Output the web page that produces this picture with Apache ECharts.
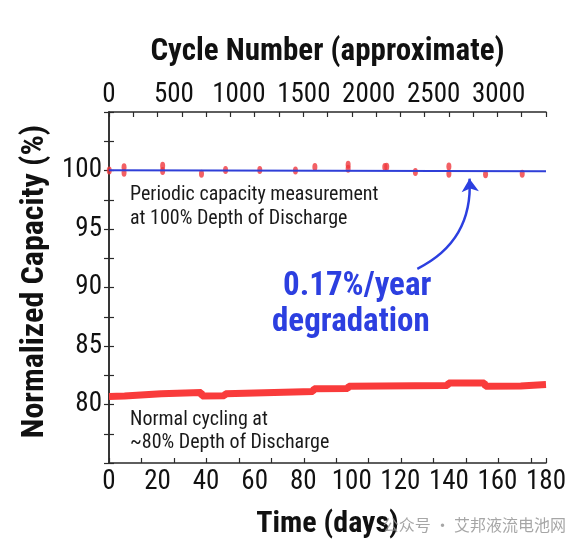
<!DOCTYPE html>
<html>
<head>
<meta charset="utf-8">
<script src="https://cdn.jsdelivr.net/npm/echarts@6/dist/echarts.min.js"></script>
<style>html,body{margin:0;padding:0;background:#fff}#c{width:582px;height:550px}</style>
</head>
<body>
<div id="c"></div>
<script>
// ---- data ----
const periodicDays = [0.1, 6.2, 6.2, 22.1, 22.1, 38.1, 48.0, 62.1, 76.8, 84.8, 98.5, 98.5, 113.6, 114.4, 126.2, 140.0, 140.0, 155.1, 170.2];
const periodicCap  = [100.0, 100.28, 99.8, 100.4, 99.95, 99.72, 100.04, 100.04, 100.0, 100.3, 100.5, 100.15, 100.3, 100.32, 99.87, 100.35, 99.72, 99.68, 99.73];
const fitDays = [0, 180];
const fitCap  = [100.02, 99.94];
const cyclingDays = [0, 6.4, 6.8, 21.5, 22.0, 38.0, 38.3, 47.5, 48.0, 84.0, 84.5, 98.3, 98.8, 139.4, 139.9, 154.6, 155.1, 169.6, 170.1, 180];
const cyclingCap  = [80.68, 80.72, 80.84, 80.92, 81.0, 81.02, 80.72, 80.74, 80.92, 81.12, 81.35, 81.37, 81.55, 81.62, 81.83, 81.84, 81.55, 81.58, 81.68, 81.70];
const cycleMax = 3365;
const arrowFrom = [127, 91.6];
const arrowTo = [148.5, 99.3];

const FONT = '"Roboto Condensed", "DejaVu Sans Condensed", sans-serif';
const AX = '#2a2a2a';
const chart = echarts.init(document.getElementById('c'));
const hidden = {show:false};
chart.setOption({
  animation:false,
  grid:{left:109, right:36, top:112, bottom:87},
  xAxis:[
    {type:'value', position:'bottom', min:0, max:180, interval:20,
     axisLine:{show:true, lineStyle:{color:AX, width:1.5}}, axisTick:hidden, splitLine:hidden,
     axisLabel:{fontFamily:FONT, fontSize:27, color:'#111', margin:6},
     name:'Time (days)', nameLocation:'middle', nameGap:46,
     nameTextStyle:{fontFamily:FONT, fontWeight:'bold', fontSize:30, color:'#111'}},
    {type:'value', position:'bottom', min:0, max:cycleMax, interval:250,
     axisLine:hidden, axisLabel:hidden, splitLine:hidden,
     axisTick:{show:true, inside:true, length:5, lineStyle:{color:AX, width:1.2}}},
    {type:'value', position:'top', min:0, max:180, interval:10,
     axisLine:{show:true, lineStyle:{color:AX, width:1.5}}, axisLabel:hidden, splitLine:hidden,
     axisTick:{show:true, inside:true, length:5, lineStyle:{color:AX, width:1.2}}},
    {type:'value', position:'top', min:0, max:cycleMax, interval:500,
     axisLine:hidden, axisTick:hidden, splitLine:hidden,
     axisLabel:{fontFamily:FONT, fontSize:27, color:'#111', margin:3, showMaxLabel:false,
       formatter:v => String(v)},
     name:'Cycle Number (approximate)', nameLocation:'middle', nameGap:44,
     nameTextStyle:{fontFamily:FONT, fontWeight:'bold', fontSize:31, color:'#111'}}
  ],
  yAxis:[
    {type:'value', position:'left', min:75, max:105, interval:2.5,
     axisLine:{show:true, lineStyle:{color:AX, width:1.5}}, splitLine:hidden,
     axisTick:{show:true, inside:true, length:5, lineStyle:{color:AX, width:1.2}},
     axisLabel:{fontFamily:FONT, fontSize:27, color:'#111', margin:7,
       formatter:v => (v % 5 === 0 && v > 75 && v < 105) ? String(v) : ''},
     name:'Normalized Capacity (%)', nameLocation:'middle', nameGap:46,
     nameTextStyle:{fontFamily:FONT, fontWeight:'bold', fontSize:32, color:'#111', padding:[0,0,0,12]}},
    {type:'value', position:'right', min:75, max:105, interval:2.5,
     axisLine:{show:true, lineStyle:{color:AX, width:1.5}}, splitLine:hidden, axisLabel:hidden,
     axisTick:{show:true, inside:true, length:5, lineStyle:{color:AX, width:1.2}}}
  ],
  series:[
    {type:'line', xAxisIndex:0, yAxisIndex:0, z:2, symbol:'none',
     data:cyclingDays.map((d,i)=>[d, cyclingCap[i]]),
     lineStyle:{color:'#f93b3b', width:7}},
    {type:'scatter', xAxisIndex:0, yAxisIndex:0, z:2, symbol:'circle', symbolSize:[5,8],
     data:periodicDays.map((d,i)=>[d, periodicCap[i]]),
     itemStyle:{color:'#f0383d'}},
    {type:'line', xAxisIndex:0, yAxisIndex:0, z:3, symbol:'none',
     data:fitDays.map((d,i)=>[d, fitCap[i]]),
     lineStyle:{color:'#2f3fd8', width:2}},
    {type:'lines', coordinateSystem:'cartesian2d', xAxisIndex:0, yAxisIndex:0, z:4,
     symbol:['none','arrow'], symbolSize:13,
     lineStyle:{color:'#2c3fe0', width:2.5, curveness:-0.33, opacity:1},
     data:[{coords:[arrowFrom, arrowTo]}]}
  ],
  graphic:[
    {type:'text', left:130, top:185, style:{text:'Periodic capacity measurement', font:'20px '+FONT, fill:'#1a1a1a'}},
    {type:'text', left:130, top:209, style:{text:'at 100% Depth of Discharge', font:'20px '+FONT, fill:'#1a1a1a'}},
    {type:'text', left:130, top:410, style:{text:'Normal cycling at', font:'20px '+FONT, fill:'#1a1a1a'}},
    {type:'text', left:130, top:433, style:{text:'~80% Depth of Discharge', font:'20px '+FONT, fill:'#1a1a1a'}},
    {type:'text', left:283, top:270, style:{text:'0.17%/year', font:'bold 33px '+FONT, fill:'#2c3fe0'}},
    {type:'text', left:272, top:306, style:{text:'degradation', font:'bold 33px '+FONT, fill:'#2c3fe0'}},
    {type:'text', right:16, top:517, z:10, style:{text:'公众号 · 艾邦液流电池网', font:'16px "Noto Sans CJK SC"', fill:'rgba(150,150,150,0.85)'}}
  ]
});
</script>
</body>
</html>
